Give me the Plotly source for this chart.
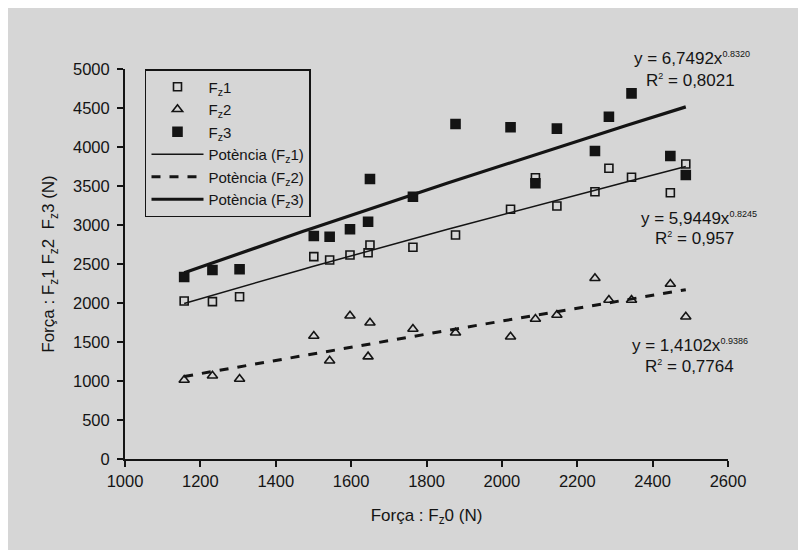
import numpy as np
import plotly.graph_objects as go

# ---- data ----
fz0 = [1157, 1232, 1304, 1501, 1543, 1597, 1645, 1650, 1764, 1877,
       2023, 2089, 2146, 2247, 2284, 2344, 2447, 2488]
fz1 = [2026, 2017, 2081, 2594, 2551, 2615, 2645, 2744, 2714, 2872,
       3201, 3606, 3244, 3427, 3727, 3612, 3414, 3782]
fz2 = [1013, 1068, 1026, 1577, 1260, 1837, 1312, 1747, 1667, 1619,
       1568, 1795, 1846, 2317, 2038, 2038, 2244, 1824]
fz3 = [2333, 2423, 2432, 2859, 2850, 2945, 3042, 3590, 3363, 4295,
       4253, 3535, 4235, 3949, 4388, 4688, 3885, 3641]

# power trend coefficients y = a * x^b, and R^2 (as printed)
coef_a = [5.9449, 1.4102, 6.7492]
coef_b = [0.8245, 0.9386, 0.8320]
r2_txt = ["0,957", "0,7764", "0,8021"]
a_txt = ["5,9449", "1,4102", "6,7492"]
b_txt = ["0.8245", "0.9386", "0.8320"]

series_names = ["F<sub>z</sub>1", "F<sub>z</sub>2", "F<sub>z</sub>3"]
trend_names = ["Potència (F<sub>z</sub>1)", "Potència (F<sub>z</sub>2)", "Potència (F<sub>z</sub>3)"]
x_ticks = [1000, 1200, 1400, 1600, 1800, 2000, 2200, 2400, 2600]
y_ticks = [0, 500, 1000, 1500, 2000, 2500, 3000, 3500, 4000, 4500, 5000]

INK = "#141414"
BG = "#d6d6d6"
FONT = "Liberation Sans, Arial, sans-serif"

fig = go.Figure()

symbols = ["square-open", "triangle-up-open", "square"]
sizes = [8, 9, 9]
for name, ys, sym, sz in zip(series_names, [fz1, fz2, fz3], symbols, sizes):
    fig.add_trace(go.Scatter(
        x=fz0, y=ys, mode="markers", name=name,
        marker=dict(symbol=sym, size=sz, color=INK, line=dict(color=INK, width=1.6)),
    ))

xt = np.linspace(min(fz0), max(fz0), 60)
dashes = ["solid", "dash", "solid"]
widths = [1.5, 3, 3.2]
for name, a, b, d, w in zip(trend_names, coef_a, coef_b, dashes, widths):
    fig.add_trace(go.Scatter(
        x=xt, y=a * xt ** b, mode="lines", name=name,
        line=dict(color=INK, width=w, dash=d),
    ))

# window-coordinate layout (page body has an 8px margin)
OFF = 8
L, T = 124.5, 69.0            # plot-area left/top in window px
PW, PH = 603.2, 390.0         # plot-area size
WF, HF = 806 - OFF, 550 - OFF # figure size that fits the window
ml, mt = L - OFF, T - OFF
mr, mb = WF - ml - PW, HF - mt - PH

def px(xw):
    return (xw - L) / PW

def py(yw):
    return (T + PH - yw) / PH

ann = []
pos = [(639, 218, 653, 238), (630, 345, 643, 366), (632, 58, 644, 80)]
for i, (x1, y1, x2, y2) in enumerate(pos):
    ann.append(dict(xref="paper", yref="paper", x=px(x1), y=py(y1),
                    text=f"y = {a_txt[i]}x<sup><span style='font-size:9px'>{b_txt[i]}</span></sup>",
                    showarrow=False, xanchor="left", yanchor="middle",
                    font=dict(size=17, color=INK, family=FONT)))
    ann.append(dict(xref="paper", yref="paper", x=px(x2), y=py(y2),
                    text=f"R<sup><span style='font-size:9px'>2</span></sup> = {r2_txt[i]}",
                    showarrow=False, xanchor="left", yanchor="middle",
                    font=dict(size=17, color=INK, family=FONT)))

fig.update_layout(
    width=WF, height=HF,
    margin=dict(l=ml, r=mr, t=mt, b=mb, pad=0),
    paper_bgcolor=BG, plot_bgcolor=BG,
    font=dict(family=FONT, size=16, color=INK),
    showlegend=True,
    legend=dict(x=px(144.5), y=1.0, xanchor="left", yanchor="top",
                bgcolor=BG, bordercolor=INK, borderwidth=1.5,
                font=dict(size=15, color=INK, family=FONT),
                tracegroupgap=0, itemwidth=52,
                entrywidthmode="pixels", entrywidth=115),
    annotations=ann,
    xaxis=dict(range=[1000, 2600], tickvals=x_ticks, ticktext=[str(v) for v in x_ticks],
               showgrid=False, zeroline=False, showline=True, linecolor=INK, linewidth=2,
               ticks="outside", ticklen=6, tickwidth=2, tickcolor=INK,
               tickfont=dict(size=16.5, color=INK, family=FONT),
               title=dict(text="Força : F<sub>z</sub>0 (N)", font=dict(size=17, color=INK, family=FONT), standoff=20)),
    yaxis=dict(range=[0, 5000], tickvals=y_ticks, ticktext=[str(v) for v in y_ticks],
               showgrid=False, zeroline=False, showline=True, linecolor=INK, linewidth=2,
               ticks="outside", ticklen=6, tickwidth=2, tickcolor=INK, ticklabelstandoff=4,
               tickfont=dict(size=16.5, color=INK, family=FONT),
               title=dict(text="Força : F<sub>z</sub>1 F<sub>z</sub>2  F<sub>z</sub>3 (N)", font=dict(size=17, color=INK, family=FONT), standoff=14)),
)

fig.write_html("out.html")
